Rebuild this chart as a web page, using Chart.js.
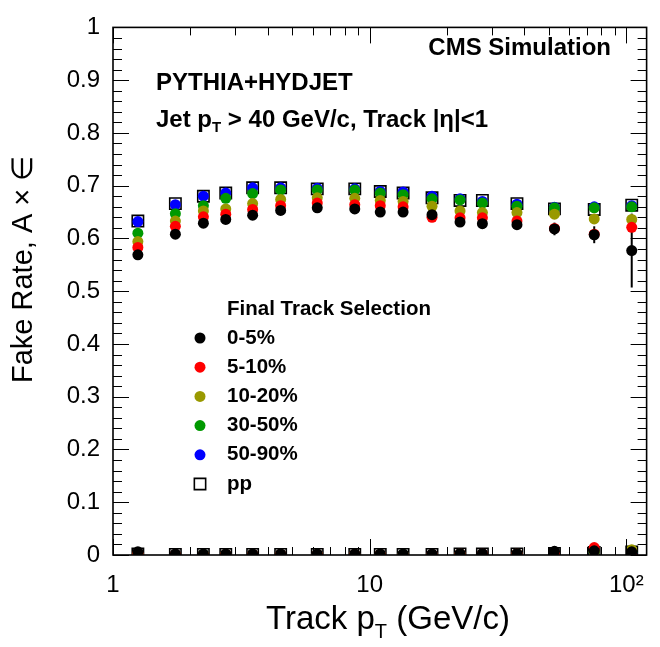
<!DOCTYPE html>
<html>
<head>
<meta charset="utf-8">
<script src="https://cdn.jsdelivr.net/npm/chart.js@4.4.1/dist/chart.umd.min.js"></script>
<style>
  body { margin: 0; background: #fff; }
</style>
</head>
<body>
<canvas id="myChart" width="660" height="647"></canvas>
<script>
// track pT bin centres (GeV/c)
const ptBins = [1.25, 1.75, 2.25, 2.75, 3.5, 4.5, 6.25, 8.75, 11, 13.5, 17.5, 22.5, 27.5, 37.5, 52.5, 75, 105];

const seriesNames = ['0-5%', '5-10%', '10-20%', '30-50%', '50-90%', 'pp'];
const seriesColors = ['#000000', '#ff0000', '#999900', '#009900', '#0000ff', '#000000'];

// acceptance x efficiency (upper group)
const accEff_0_5   = [0.569, 0.608, 0.629, 0.636, 0.644, 0.653, 0.658, 0.656, 0.650, 0.650, 0.645, 0.631, 0.628, 0.626, 0.618, 0.607, 0.577];
const accEff_5_10  = [0.583, 0.623, 0.641, 0.646, 0.655, 0.662, 0.667, 0.664, 0.662, 0.660, 0.640, 0.639, 0.639, 0.633, 0.619, 0.608, 0.621];
const accEff_10_20 = [0.594, 0.633, 0.652, 0.656, 0.666, 0.674, 0.677, 0.676, 0.672, 0.670, 0.661, 0.652, 0.649, 0.649, 0.646, 0.637, 0.636];
const accEff_30_50 = [0.610, 0.647, 0.662, 0.676, 0.685, 0.692, 0.692, 0.692, 0.686, 0.683, 0.675, 0.673, 0.667, 0.661, 0.658, 0.658, 0.660];
const accEff_50_90 = [0.632, 0.664, 0.680, 0.686, 0.696, 0.696, 0.695, 0.694, 0.689, 0.688, 0.680, 0.675, 0.670, 0.665, 0.659, 0.660, 0.662];
const accEff_pp    = [0.633, 0.666, 0.680, 0.686, 0.696, 0.696, 0.694, 0.694, 0.689, 0.686, 0.677, 0.672, 0.672, 0.666, 0.656, 0.655, 0.663];
const accEffErr_0_5 = [0.004, 0.003, 0.003, 0.003, 0.003, 0.003, 0.003, 0.003, 0.004, 0.004, 0.004, 0.005, 0.006, 0.006, 0.012, 0.016, 0.070];

// fake rate (lower group)
const fake_0_5   = [0.006, 0.002, 0.002, 0.002, 0.002, 0.002, 0.002, 0.002, 0.002, 0.002, 0.002, 0.003, 0.003, 0.003, 0.007, 0.008, 0.006];
const fake_5_10  = [0.003, 0.001, 0.000, 0.001, 0.001, 0.001, 0.001, 0.001, 0.001, 0.000, 0.001, 0.002, 0.002, 0.002, 0.004, 0.014, 0.001];
const fake_10_20 = [0.002, 0.000, 0.001, 0.001, 0.001, 0.001, 0.001, 0.001, 0.001, 0.001, 0.001, 0.002, 0.001, 0.002, 0.003, 0.006, 0.010];
const fake_30_50 = [0.001, 0.001, 0.001, 0.001, 0.001, 0.001, 0.001, 0.001, 0.001, 0.001, 0.000, 0.001, 0.001, 0.000, 0.002, 0.005, 0.005];
const fake_50_90 = [0.001, 0.001, 0.001, 0.001, 0.001, 0.001, 0.001, 0.001, 0.001, 0.001, 0.001, 0.001, 0.001, 0.001, 0.002, 0.004, 0.004];
const fake_pp    = [0.002, 0.001, 0.001, 0.001, 0.001, 0.001, 0.001, 0.001, 0.001, 0.001, 0.001, 0.002, 0.002, 0.002, 0.003, 0.005, 0.006];

const accEffSets = [accEff_0_5, accEff_5_10, accEff_10_20, accEff_30_50, accEff_50_90, accEff_pp];
const fakeSets = [fake_0_5, fake_5_10, fake_10_20, fake_30_50, fake_50_90, fake_pp];

const xTicks = [1, 10, 100];
const xTickLabels = ['1', '10', '10\u00b2'];

const FONT = '"Liberation Sans", Arial, Helvetica, sans-serif';

function pointStyleFor(i) {
  if (seriesNames[i] === 'pp') {
    return { pointStyle: 'rect', pointRadius: 8, borderWidth: 1.6, backgroundColor: 'rgba(0,0,0,0)', borderColor: '#000' };
  }
  return { pointStyle: 'circle', pointRadius: 5.5, borderWidth: 0, backgroundColor: seriesColors[i], borderColor: seriesColors[i] };
}

let datasets = [];
seriesNames.forEach((name, i) => {
  [accEffSets[i], fakeSets[i]].forEach((vals) => {
    datasets.push(Object.assign({
      label: name,
      data: ptBins.map((x, j) => ({ x: x, y: vals[j] })),
      showLine: false,
      pointHoverRadius: 0,
      order: i
    }, pointStyleFor(i)));
  });
});

function textWithSub(ctx, parts, x, y, align) {
  let total = 0;
  parts.forEach(p => {
    ctx.font = p.font;
    total += ctx.measureText(p.t).width;
  });
  let cx = align === 'center' ? x - total / 2 : (align === 'right' ? x - total : x);
  ctx.textAlign = 'left';
  ctx.textBaseline = 'middle';
  parts.forEach(p => {
    ctx.font = p.font;
    ctx.fillText(p.t, cx, y + (p.dy || 0));
    cx += ctx.measureText(p.t).width;
  });
}

const decor = {
  id: 'decor',
  beforeDatasetsDraw(chart) {
    const ctx = chart.ctx, xs = chart.scales.x, ys = chart.scales.y;
    ctx.save();
    ctx.strokeStyle = '#000';
    ctx.lineWidth = 2;
    ptBins.forEach((x, j) => {
      const px = xs.getPixelForValue(x);
      ctx.beginPath();
      ctx.moveTo(px, ys.getPixelForValue(accEff_0_5[j] - accEffErr_0_5[j]));
      ctx.lineTo(px, ys.getPixelForValue(accEff_0_5[j] + accEffErr_0_5[j]));
      ctx.stroke();
    });
    ctx.restore();
  },
  afterDraw(chart) {
    const ctx = chart.ctx, a = chart.chartArea, xs = chart.scales.x, ys = chart.scales.y;
    ctx.save();
    ctx.strokeStyle = '#000';
    ctx.fillStyle = '#000';

    // ticks inside the frame
    ctx.lineWidth = 1;
    ctx.beginPath();
    for (let k = 0; k <= 50; k++) {
      const py = Math.round(ys.getPixelForValue(k / 50)) + 0.5;
      const len = (k % 5 === 0) ? 16 : 9;
      ctx.moveTo(a.left, py); ctx.lineTo(a.left + len, py);
      ctx.moveTo(a.right, py); ctx.lineTo(a.right - len, py);
    }
    [1, 10, 100].forEach(dec => {
      for (let m = 1; m <= 9; m++) {
        const v = dec * m;
        if (v > xs.max) continue;
        const px = Math.round(xs.getPixelForValue(v)) + 0.5;
        const len = (m === 1) ? 16 : 8;
        ctx.moveTo(px, a.bottom); ctx.lineTo(px, a.bottom - len);
        ctx.moveTo(px, a.top); ctx.lineTo(px, a.top + len);
      }
    });
    ctx.stroke();

    // frame
    ctx.lineWidth = 1.6;
    ctx.strokeRect(a.left, a.top, a.right - a.left, a.bottom - a.top);

    // labels in the pad
    const bold24 = 'bold 24px ' + FONT;
    ctx.font = bold24;
    ctx.textAlign = 'right';
    ctx.textBaseline = 'middle';
    ctx.fillText('CMS Simulation', 611, 48);
    ctx.textAlign = 'left';
    ctx.fillText('PYTHIA+HYDJET', 156, 83);
    textWithSub(ctx, [
      { t: 'Jet p', font: bold24 },
      { t: 'T', font: 'bold 15px ' + FONT, dy: 8 },
      { t: ' > 40 GeV/c, Track |\u03b7|<1', font: bold24 }
    ], 156, 120, 'left');

    // legend
    const legFont = 'bold 20.5px ' + FONT;
    ctx.font = legFont;
    ctx.textAlign = 'left';
    ctx.textBaseline = 'middle';
    ctx.fillText('Final Track Selection', 227, 309);
    seriesNames.forEach((name, i) => {
      const y = 338 + i * 29.2;
      const st = pointStyleFor(i);
      ctx.save();
      ctx.fillStyle = st.backgroundColor;
      ctx.strokeStyle = st.borderColor;
      ctx.lineWidth = st.borderWidth;
      Chart.helpers.drawPoint(ctx, { pointStyle: st.pointStyle, radius: st.pointRadius, rotation: 0, borderWidth: st.borderWidth }, 200, y);
      ctx.restore();
      ctx.fillStyle = '#000';
      ctx.font = legFont;
      ctx.fillText(name, 227, y);
    });

    // axis titles
    textWithSub(ctx, [
      { t: 'Track p', font: '33px ' + FONT },
      { t: 'T', font: '20px ' + FONT, dy: 12 },
      { t: ' (GeV/c)', font: '33px ' + FONT }
    ], 388, 620, 'center');

    ctx.save();
    ctx.translate(24, 383);
    ctx.rotate(-Math.PI / 2);
    ctx.font = '29px ' + FONT;
    ctx.textAlign = 'left';
    ctx.textBaseline = 'middle';
    ctx.fillText('Fake Rate, A \u00d7 \u2208', 0, 0);
    ctx.restore();

    ctx.restore();
  }
};

const ctx = document.getElementById('myChart').getContext('2d');
const myChart = new Chart(ctx, {
  type: 'scatter',
  data: { datasets: datasets },
  options: {
    responsive: false,
    animation: false,
    layout: { padding: { top: 18, right: 3, left: 0, bottom: 0 } },
    plugins: { legend: { display: false }, tooltip: { enabled: false } },
    scales: {
      x: {
        type: 'logarithmic',
        min: 1,
        max: 120,
        grid: { display: false, drawTicks: false },
        border: { display: false },
        afterBuildTicks: s => { s.ticks = xTicks.map(v => ({ value: v })); },
        afterFit: s => { s.height = 92; },
        ticks: {
          autoSkip: false,
          maxRotation: 0,
          padding: 16,
          color: '#000',
          font: { family: FONT, size: 24 },
          callback: v => { const k = xTicks.indexOf(v); return k >= 0 ? xTickLabels[k] : ''; }
        }
      },
      y: {
        min: 0,
        max: 1,
        grid: { display: false, drawTicks: false },
        border: { display: false },
        afterFit: s => { s.width = 113; },
        ticks: {
          stepSize: 0.1,
          padding: 13,
          color: '#000',
          font: { family: FONT, size: 24 },
          callback: v => (Math.abs(v) < 1e-9 ? '0' : Math.abs(v - 1) < 1e-9 ? '1' : v.toFixed(1))
        }
      }
    }
  },
  plugins: [decor]
});
</script>
</body>
</html>
